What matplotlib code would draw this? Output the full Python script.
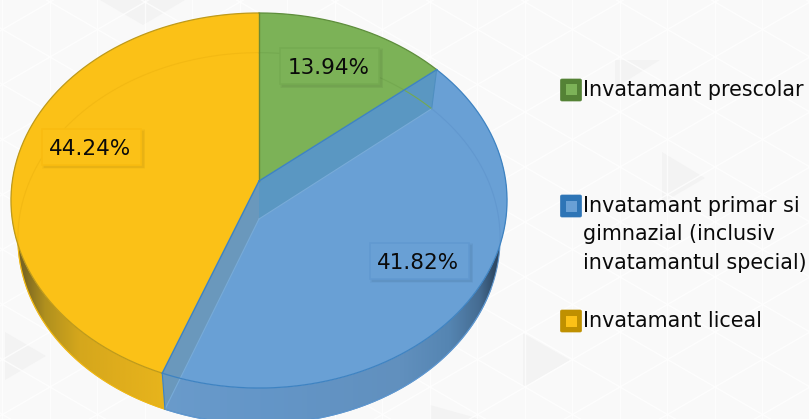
import numpy as np
import matplotlib
matplotlib.use("Agg")
import matplotlib.pyplot as plt
from matplotlib.patches import Polygon, Rectangle, FancyBboxPatch
from matplotlib.colors import to_rgb

categories = ["Invatamant prescolar",
              "Invatamant primar si\ngimnazial (inclusiv\ninvatamantul special)",
              "Invatamant liceal"]
values = [13.94, 41.82, 44.24]
value_labels = ["13.94%", "41.82%", "44.24%"]
face_colors = ["#7CB257", "#69A0D5", "#FBC117"]
edge_colors = ["#5E8E3C", "#3E83C2", "#BE9A1A"]
swatch_edges = ["#548235", "#2E75B6", "#BF9000"]

W, H = 809, 419
fig = plt.figure(figsize=(W / 100, H / 100), dpi=100, facecolor="#F9F9F9")
ax = fig.add_axes([0, 0, 1, 1])

# faint triangular background pattern
s, h = 47.5, 27.5
for tri in [[(5, 332), (46, 356), (5, 380)], [(662, 152), (705, 178), (662, 203)],
            [(100, 0), (185, 0), (143, 25)], [(523, 333), (570, 360), (523, 388)],
            [(615, 60), (660, 60), (615, 88)], [(430, 405), (480, 419), (430, 419)]]:
    ax.add_patch(Polygon(tri, fc="#F3F3F3", ec="none", zorder=0.2))
for i in range(-2, 17):
    for j in range(-1, 9):
        x0 = 50 + i * s
        y0 = 2 + j * 2 * h + (i % 2) * h
        ax.plot([x0, x0], [y0, y0 + 2 * h], color="white", lw=1.0, alpha=0.75, zorder=0.3)
        ax.plot([x0, x0 + s], [y0, y0 + h], color="white", lw=1.0, alpha=0.75, zorder=0.3)
        ax.plot([x0, x0 + s], [y0, y0 - h], color="white", lw=1.0, alpha=0.75, zorder=0.3)

CX, TOPY, BOTY, A, B, K = 259.0, 181.0, 219.0, 246.7, 185.5, 0.104


def proj(theta, r=1.0, bottom=False):
    """Clockwise angle from 12 o'clock to picture position with perspective."""
    x = r * np.sin(theta)
    y = r * np.cos(theta)
    d = 1 + K * y
    if bottom:
        return CX + 0.972 * A * x / d, BOTY - 0.99 * B * y / d
    return CX + A * x / d, TOPY - B * y / d


def arc(a0, a1, bottom=False, n=240):
    th = np.linspace(a0, a1, n)
    return np.column_stack(proj(th, bottom=bottom))


cum = np.concatenate([[0], np.cumsum(values)]) / np.sum(values) * 2 * np.pi
apex_top = (CX, TOPY)
apex_bot = (CX, BOTY)


def gradient(xs, cols, clip_pts, z):
    """Horizontal shading clipped to a wall outline."""
    rgb = np.array([to_rgb(c) for c in cols])
    grid = np.linspace(xs[0], xs[-1], 300)
    img = np.stack([np.interp(grid, xs, rgb[:, k]) for k in range(3)], axis=-1)[None, :, :]
    im = ax.imshow(img, extent=(xs[0], xs[-1], H + 40, 150), aspect="auto", zorder=z, interpolation="bilinear")
    patch = Polygon(clip_pts, closed=True, transform=ax.transData, fc="none", ec="none")
    ax.add_patch(patch)
    im.set_clip_path(patch)


# side wall
y_w = np.vstack([arc(cum[2], np.pi * 1.6), arc(cum[2], np.pi * 1.6, bottom=True)[::-1]])
b_w = np.vstack([arc(np.pi * 0.4, cum[2]), arc(np.pi * 0.4, cum[2], bottom=True)[::-1]])
gradient([5, 25, 45, 80, 120, 170], ["#6E5A24", "#7E6922", "#B0901E", "#D5A71C", "#DFAD1C", "#E8B51C"], y_w, 1)
gradient([160, 260, 400, 450, 480, 495, 515], ["#6A9BCB", "#6496C8", "#6190BE", "#5585B2", "#456C92", "#2F4A66", "#2B3F55"], b_w, 1)

# outer line of the wall
for a0, a1, c, al in [(np.pi * 0.62, cum[2], "#3E83C2", 0.8), (cum[2], np.pi * 1.5, "#C49A0A", 0.6)]:
    p = arc(a0, a1, bottom=True)
    ax.plot(p[:, 0], p[:, 1], color=c, lw=0.8, alpha=al, zorder=1.2)

# top faces
for i in range(3):
    pts = np.vstack([[apex_top], arc(cum[i], cum[i + 1])])
    ax.add_patch(Polygon(pts, closed=True, fc=face_colors[i], ec="none", zorder=2))

# inner walls of the translucent blue slice
g_top, g_bot = proj(cum[1]), proj(cum[1], bottom=True)
y_top, y_bot = proj(cum[2]), proj(cum[2], bottom=True)
ax.add_patch(Polygon([apex_top, g_top, g_bot, apex_bot], fc="#5A97C2", ec="none", zorder=2.2))
ax.add_patch(Polygon([apex_top, y_top, y_bot, apex_bot], fc="#6A98BC", ec="none", zorder=2.2))
ax.plot(*zip(g_top, g_bot), color="#4F8FC0", lw=0.8, zorder=2.3)
ax.plot(*zip(apex_bot, g_bot), color="#78ABD8", lw=0.8, zorder=2.3)
ax.plot(*zip(apex_bot, y_bot), color="#78ABD8", lw=0.8, zorder=2.3)

# rim of the far face seen through the slices
rim_cols = ["#74A950", "#6298CF", "#F3B913"]
for i in range(3):
    p = arc(cum[i], cum[i + 1], bottom=True)
    ax.plot(p[:, 0], p[:, 1], color=rim_cols[i], lw=0.8, zorder=2.4)

# top rim and slice boundaries
for i in range(3):
    p = arc(cum[i], cum[i + 1])
    ax.plot(p[:, 0], p[:, 1], color=edge_colors[i], lw=0.9, zorder=3)
ax.plot(*zip(apex_top, proj(0.0)), color="#6B8A35", lw=1.0, zorder=3.1)
ax.plot(*zip(apex_top, y_top), color="#3E83C2", lw=1.0, zorder=3.1)
ax.plot(*zip(apex_top, g_top), color="#3E83C2", lw=1.0, zorder=3.1)
ax.plot(*zip(y_top, y_bot), color="#3E83C2", lw=0.8, zorder=3.1)

# data labels
box_pos = [(330, 66.5), (420, 261), (92, 147)]
box_w, box_h = 99, 36
box_edges = ["#75AB51", "#6199D1", "#F9BC10"]
for lab, (x, y), fc, ec in zip(value_labels, box_pos, face_colors, box_edges):
    for g, al in [(4, 0.02), (2.5, 0.025), (1, 0.03)]:
        ax.add_patch(Rectangle((x - box_w / 2 + 2 - g / 2, y - box_h / 2 + 2 - g / 2), box_w + g, box_h + g,
                               fc="black", alpha=al, ec="none", zorder=4))
    ax.add_patch(Rectangle((x - box_w / 2, y - box_h / 2), box_w, box_h, fc=fc, ec=ec, lw=1.2, zorder=4.1))
    ax.text(x - 1.5, y + 1.5, lab, ha="center", va="center", fontsize=15.5, family="DejaVu Sans",
            color="#0A0A0A", zorder=5)

# legend
legend_y = [90, 206, 321]
for cat, y, fc, ec in zip(categories, legend_y, face_colors, swatch_edges):
    ax.add_patch(FancyBboxPatch((560.5, y - 11), 21, 22, boxstyle="round,pad=0,rounding_size=1.5",
                                fc=ec, ec=ec, lw=0.5, zorder=4))
    ax.add_patch(Rectangle((566, y - 5.5), 11, 11, fc=fc, ec="none", zorder=4.1))
    ax.text(583, y - 10, cat, ha="left", va="top", fontsize=14.9, family="DejaVu Sans",
            color="#0A0A0A", linespacing=1.52, zorder=5)

ax.set_xlim(0, W)
ax.set_ylim(H, 0)
ax.axis("off")
fig.savefig("out.png", dpi=100, facecolor=fig.get_facecolor())
